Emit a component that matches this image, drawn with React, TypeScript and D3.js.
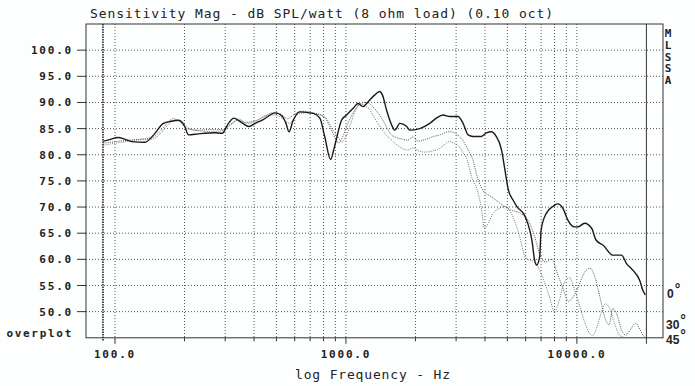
import React from "react";
import * as d3 from "d3";

const W = 695;
const H = 386;

// Axis values
const yTickValues = [50, 55, 60, 65, 70, 75, 80, 85, 90, 95, 100];
const xGridValues = [100, 200, 300, 400, 500, 600, 700, 800, 900, 1000, 2000, 3000, 4000, 5000, 6000, 7000, 8000, 9000, 10000];
const xMajorValues = [100, 1000, 10000];
const xMajorLabels = ["100.0", "1000.0", "10000.0"];
const markerFreq = 88.7;
const limitFreq = 20000;
const sideLetters = ["M", "L", "S", "S", "A"];
const curveLabels = ["0", "30", "45"];

// 0 degree (solid)
const freq0 = [89, 95, 103, 110, 118, 135, 147, 162, 175, 189, 200, 208, 230, 271, 291, 310, 327, 355, 380, 405, 434, 495, 531, 550, 567, 590, 632, 722, 771, 809, 858, 893, 957, 1006, 1075, 1127, 1185, 1246, 1330, 1400, 1440, 1500, 1577, 1630, 1711, 1833, 1890, 2088, 2307, 2465, 2634, 2815, 3057, 3215, 3380, 3553, 3860, 4055, 4260, 4475, 4720, 4880, 5050, 5300, 5500, 5970, 6250, 6400, 6540, 6700, 6900, 7000, 7370, 7870, 8270, 8690, 9140, 9760, 10100, 10800, 11600, 12100, 13000, 14300, 15600, 16400, 17500, 18700, 19300, 19800];
const db0 = [82.6, 82.9, 83.3, 83.0, 82.5, 82.4, 83.8, 86.0, 86.4, 86.6, 85.5, 83.8, 84.0, 84.2, 84.1, 86.0, 87.0, 86.1, 85.4, 86.0, 86.6, 88.0, 87.3, 86.0, 84.4, 86.5, 88.2, 87.9, 87.0, 83.5, 79.1, 81.6, 86.6, 87.6, 88.9, 89.8, 89.2, 90.1, 91.4, 92.1, 91.4, 88.5, 85.7, 84.7, 86.0, 85.4, 84.7, 85.0, 86.0, 87.0, 87.6, 87.3, 87.3, 86.0, 83.8, 83.5, 83.5, 84.2, 84.4, 83.5, 80.9, 77.1, 73.3, 71.3, 70.1, 68.2, 65.6, 63.4, 60.2, 58.9, 60.5, 65.6, 68.8, 70.1, 70.6, 69.8, 67.5, 66.2, 66.2, 66.9, 65.9, 63.7, 62.7, 60.8, 60.8, 59.2, 57.9, 56.0, 54.1, 53.2];

// 30 degree (dotted)
const freq30 = [89, 100, 115, 130, 145, 157, 168, 178, 190, 205, 225, 260, 290, 314, 340, 370, 400, 440, 480, 520, 560, 600, 650, 720, 790, 840, 880, 930, 970, 1020, 1080, 1140, 1200, 1250, 1300, 1360, 1420, 1490, 1560, 1650, 1750, 1850, 1950, 2050, 2200, 2400, 2550, 2800, 2950, 3100, 3200, 3380, 3550, 3700, 3970, 4260, 4470, 4900, 5200, 5700, 6250, 6600, 6900, 7300, 7800, 8200, 8700, 9200, 9700, 10200, 10800, 11400, 12000, 12700, 13300, 13800, 14300, 14900, 15600, 16300, 17000, 18000, 18800, 19500, 19800];
const db30 = [82.2, 82.5, 82.8, 83.0, 83.3, 84.5, 86.0, 86.9, 86.4, 85.0, 84.7, 84.8, 84.8, 85.6, 86.6, 86.2, 86.4, 87.2, 88.0, 87.8, 86.9, 87.8, 88.3, 88.0, 87.5, 86.0, 84.0, 82.3, 83.5, 86.0, 88.2, 89.5, 90.0, 89.9, 89.3, 88.3, 87.2, 85.5, 84.0, 83.3, 83.0, 82.8, 83.4, 82.6, 82.9, 83.5, 83.8, 84.4, 84.2, 83.5, 82.8, 80.9, 79.0, 75.8, 72.9, 72.0, 71.3, 70.0, 69.4, 68.8, 66.9, 64.0, 61.0, 59.5, 60.0, 57.5, 54.5, 52.0, 53.0, 55.0, 57.5, 58.3, 56.5, 52.0, 48.5, 47.5, 50.6, 49.5, 46.5, 45.5, 46.5, 47.8, 46.5, 45.3, 45.2];

// 45 degree (dotted, lighter)
const freq45 = [89, 100, 115, 130, 145, 157, 168, 180, 195, 210, 230, 260, 290, 320, 345, 370, 405, 450, 490, 530, 570, 610, 660, 740, 820, 870, 920, 960, 1000, 1050, 1100, 1150, 1200, 1260, 1330, 1400, 1480, 1560, 1650, 1750, 1850, 1950, 2050, 2200, 2350, 2500, 2650, 2800, 2950, 3100, 3200, 3350, 3500, 3700, 3850, 3980, 4150, 4300, 4630, 4880, 5200, 5600, 5970, 6200, 6500, 7000, 7600, 8000, 8400, 8800, 9300, 9800, 10300, 10800, 11300, 11700, 12200, 12800, 13300, 13900, 14500, 15300, 16000];
const db45 = [81.8, 82.2, 82.6, 82.9, 83.0, 84.0, 85.5, 86.6, 86.2, 85.0, 84.6, 84.4, 84.6, 86.0, 86.8, 86.0, 86.3, 87.5, 87.6, 87.0, 86.0, 87.5, 88.0, 87.8, 87.0, 85.0, 83.5, 82.4, 83.5, 86.0, 88.5, 89.8, 89.4, 88.8, 87.0, 85.5, 84.0, 83.0, 82.0, 81.2, 80.9, 81.3, 80.8, 80.5, 80.7, 81.0, 81.8, 82.5, 82.2, 81.5, 80.5, 79.0, 75.8, 73.3, 70.0, 66.0, 67.0, 68.5, 69.8, 70.1, 68.8, 65.0, 60.5, 59.9, 59.6, 57.3, 52.9, 50.0, 52.2, 55.5, 56.5, 54.0, 51.0, 48.0, 46.0, 45.4, 47.0, 50.0, 51.5, 50.5, 48.0, 45.5, 45.1];

const L = 86, R = 663, T = 24, B = 337.8;
const x = d3.scaleLog().domain([74.9, 23600]).range([L, R]);
const y = d3.scaleLinear().domain([45, 105]).range([B, T]);

const lineGen = d3
  .line<[number, number]>()
  .x((d) => x(d[0]))
  .y((d) => y(d[1]))
  .curve(d3.curveMonotoneX);

const zip = (f: number[], v: number[]) => f.map((ff, i) => [ff, v[i]] as [number, number]);

const mono = "'DejaVu Sans Mono', monospace";
const sans = "'Liberation Sans', Arial, sans-serif";
const curveLabelPos = [
  { x: 667, y: 298 },
  { x: 666, y: 329 },
  { x: 666, y: 344 },
];

export default function App() {
  return (
    <svg width={W} height={H} style={{ position: "absolute", left: 0, top: 0, background: "#fdfefe" }}>
      <defs>
        <clipPath id="plotclip">
          <rect x={L} y={T} width={R - L} height={B - T} />
        </clipPath>
      </defs>
      <rect x={0} y={0} width={W} height={H} fill="#fdfefe" />
      {/* Title */}
      <text x={90} y={18} fontFamily={mono} fontSize={13} fill="#222" textLength={463} lengthAdjust="spacing">
        Sensitivity Mag - dB SPL/watt (8 ohm load) (0.10 oct)
      </text>
      {/* horizontal grid */}
      {yTickValues.map((v) => (
        <line key={"hg" + v} x1={L} x2={R} y1={y(v)} y2={y(v)} stroke="#555" strokeWidth={1} strokeDasharray="1 2" />
      ))}
      {/* vertical grid */}
      {xGridValues.map((f) => (
        <line key={"vg" + f} x1={x(f)} x2={x(f)} y1={T} y2={B} stroke="#555" strokeWidth={1} strokeDasharray="1 2" />
      ))}
      {/* marker line */}
      <line x1={x(markerFreq)} x2={x(markerFreq)} y1={T} y2={B + 3} stroke="#222" strokeWidth={1.6} strokeDasharray="1.5 1" />
      {/* 20 kHz limit */}
      <line x1={x(limitFreq)} x2={x(limitFreq)} y1={T} y2={B + 6} stroke="#333" strokeWidth={1} />
      {/* frame */}
      <rect x={L} y={T} width={R - L} height={B - T} fill="none" stroke="#333" strokeWidth={1} />
      {/* y ticks and labels */}
      {yTickValues.map((v) => (
        <g key={"yt" + v}>
          <line x1={77} x2={L} y1={y(v)} y2={y(v)} stroke="#333" strokeWidth={1} />
          <text x={73} y={y(v) + 4} textAnchor="end" fontFamily={mono} fontWeight="bold" fontSize={11} letterSpacing={1.8} fill="#222">
            {v.toFixed(1)}
          </text>
        </g>
      ))}
      <text x={73} y={337} textAnchor="end" fontFamily={mono} fontWeight="bold" fontSize={11} letterSpacing={1.7} fill="#222">
        overplot
      </text>
      {/* x ticks */}
      {xGridValues.map((f) => (
        <line key={"xt" + f} x1={x(f)} x2={x(f)} y1={B} y2={xMajorValues.includes(f) ? B + 6 : B + 3.5} stroke="#333" strokeWidth={1} />
      ))}
      {xMajorValues.map((f, i) => (
        <text key={"xl" + f} x={x(f)} y={358} textAnchor="middle" fontFamily={mono} fontWeight="bold" fontSize={11} letterSpacing={1.8} fill="#222">
          {xMajorLabels[i]}
        </text>
      ))}
      <text x={295} y={379} fontFamily={mono} fontSize={13} fill="#222" textLength={155} lengthAdjust="spacing">
        log Frequency - Hz
      </text>
      {/* side letters */}
      {sideLetters.map((s, i) => (
        <text key={"sl" + i} x={668} y={37 + i * 11.8} textAnchor="middle" fontFamily={mono} fontWeight="bold" fontSize={11} fill="#222">
          {s}
        </text>
      ))}
      {/* curve legend */}
      {curveLabels.map((lab, i) => (
        <text key={"cl" + i} x={curveLabelPos[i].x} y={curveLabelPos[i].y} fontFamily={sans} fontWeight="bold" fontSize={12} fill="#222">
          {lab}
          <tspan dx={1} dy={-4} fontSize={14}>°</tspan>
        </text>
      ))}
      {/* curves */}
      <g clipPath="url(#plotclip)">
        <path d={lineGen(zip(freq45, db45)) || ""} fill="none" stroke="#777" strokeWidth={1} strokeDasharray="1 1.2" />
        <path d={lineGen(zip(freq30, db30)) || ""} fill="none" stroke="#555" strokeWidth={1} strokeDasharray="1 1.2" />
        <path d={lineGen(zip(freq0, db0)) || ""} fill="none" stroke="#1a1a1a" strokeWidth={1.4} />
      </g>
    </svg>
  );
}
